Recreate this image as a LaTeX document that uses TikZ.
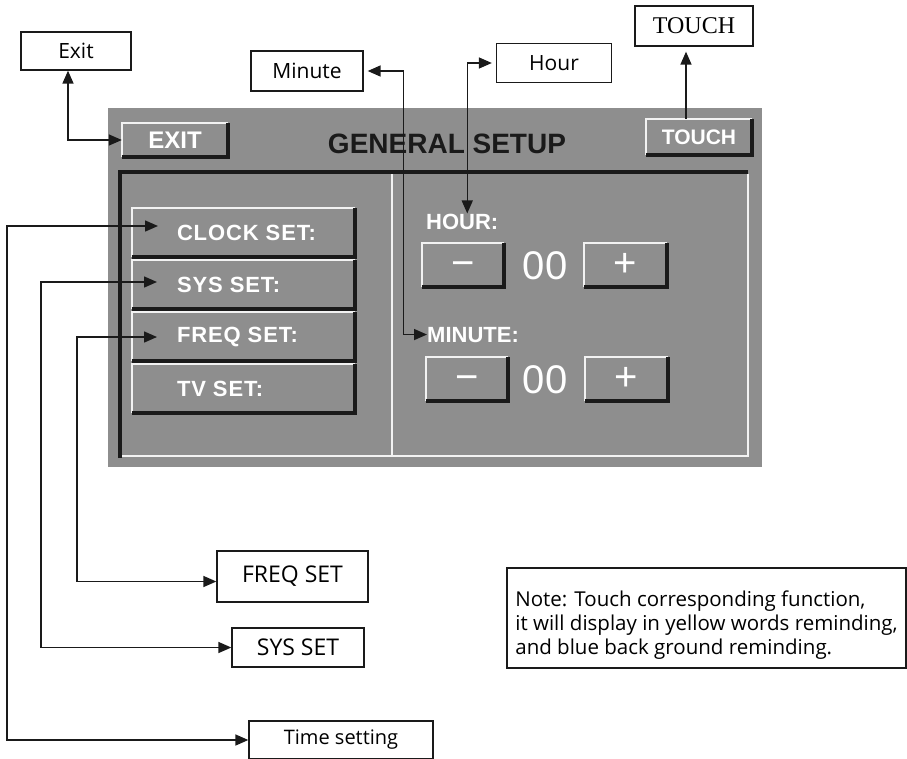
\documentclass[tikz,border=0pt]{standalone}
\usepackage{fontspec}
\setmainfont{Liberation Sans}
\newfontfamily\labelfont{Open Sans}
\newfontfamily\serifont{Liberation Serif}
\newfontfamily\menufont[LetterSpace=4]{Liberation Sans}
\usetikzlibrary{arrows.meta,positioning,calc}
\definecolor{panelgray}{HTML}{8E8E8E}
\definecolor{hilite}{HTML}{F2F2F2}
\definecolor{ink}{HTML}{1A1A1A}
\newcommand{\menutext}[1]{\makebox[133pt][l]{#1}}

\begin{document}
\begin{tikzpicture}[
  x=1pt, y=-1pt,
  callout/.style={draw=ink, line width=1.3pt, fill=white, inner sep=0pt, font=\labelfont\fontsize{21}{24}\selectfont},
  btn/.style={fill=panelgray, inner sep=0pt, text=white, font=\bfseries\fontsize{23}{26}\selectfont},
  menubtn/.style={btn, font=\menufont\bfseries\fontsize{22}{26}\selectfont, minimum width=223pt, minimum height=49pt},
  pmbtn/.style={btn, font=\fontsize{40}{40}\selectfont, minimum width=82pt, minimum height=44pt},
  hi/.style={hilite, line width=2pt},
  lo/.style={ink, line width=3.5pt},
  arr/.style={-{Triangle[length=13pt,width=11pt]}, line width=1.5pt, ink},
  dblarr/.style={{Triangle[length=13pt,width=11pt]}-{Triangle[length=13pt,width=11pt]}, line width=1.5pt, ink},
]
\useasboundingbox (0,0) rectangle (907,758);

% screen panel
\node[fill=panelgray, minimum width=654pt, minimum height=359pt, inner sep=0pt] (panel) at (435,287.5) {};
\draw[ink, line width=3.5pt] (120,458) -- (120,172) -- (748,172);
\draw[hilite, line width=2.5pt] (122,456) -- (748,456) -- (748,174);
\draw[hilite, line width=2.5pt] (392,174) -- (392,455);

\node[font=\bfseries\fontsize{28}{30}\selectfont, text=ink, anchor=base, inner sep=0pt] (title) at (447,153) {GENERAL SETUP};
\node[btn, font=\bfseries\fontsize{24}{26}\selectfont, minimum width=106pt, minimum height=34pt] (exitb) at (175,140) {EXIT};
\node[btn, font=\bfseries\fontsize{21}{24}\selectfont, minimum width=106pt, minimum height=36pt] (touchb) at (699,137) {TOUCH};

% menu buttons
\foreach \n/\t [count=\i from 0] in {clock/CLOCK SET:, sys/SYS SET:, freq/FREQ SET:, tv/TV SET:}
  \node[menubtn] (\n) at (243.5,{232.5+52*\i}) {\menutext{\t}};

% hour / minute
\node[anchor=base west, inner sep=0pt, text=white, font=\bfseries\fontsize{22}{24}\selectfont] (hourtxt) at (426,229) {HOUR:};
\node[pmbtn] (hminus) at (463,265) {\vphantom{+}−};
\node[text=white, font=\fontsize{40}{40}\selectfont, inner sep=0pt] (hval) at (545,266) {00};
\node[pmbtn, minimum width=83pt] (hplus) at (625.5,265) {+};

\node[anchor=base west, inner sep=0pt, text=white, font=\bfseries\fontsize{22}{24}\selectfont] (minutetxt) at (427,342) {MINUTE:};
\node[pmbtn] (mminus) at (467,379) {\vphantom{+}−};
\node[text=white, font=\fontsize{40}{40}\selectfont, inner sep=0pt] (mval) at (545,380) {00};
\node[pmbtn, minimum width=83pt] (mplus) at (626.5,379) {+};

\foreach \b in {exitb,touchb,clock,sys,freq,tv,hminus,hplus,mminus,mplus}{
  \draw[hi] (\b.south west) |- (\b.north east);
  \draw[lo] (\b.south west) -| (\b.north east);
}

% callouts
\node[callout, minimum width=110pt, minimum height=38pt] (exitlbl) at (76,51) {Exit};
\node[callout, minimum width=112pt, minimum height=40pt] (minlbl) at (307,71) {Minute};
\node[callout, minimum width=115pt, minimum height=39pt] (hourlbl) at (554,63) {Hour};
\node[callout, font=\serifont\fontsize{24}{26}\selectfont, minimum width=118pt, minimum height=40pt] (touchlbl) at (694,26) {TOUCH};
\node[callout, font=\labelfont\fontsize{23}{26}\selectfont, minimum width=151pt, minimum height=51pt] (freqlbl) at (292.5,576.5) {FREQ SET};
\node[callout, font=\labelfont\fontsize{23}{26}\selectfont, minimum width=132pt, minimum height=39pt] (syslbl) at (298,647.5) {SYS SET};
\node[callout, font=\labelfont\fontsize{20}{24}\selectfont, minimum width=184pt, minimum height=38pt] (timelbl) at (341,740) {Time setting};
\node[callout, font=\labelfont\fontsize{20.5}{24}\selectfont, align=left, minimum width=399pt, minimum height=100pt] (notelbl) at (706.5,618)
  {\rule{0pt}{30pt}Note: Touch corresponding function,\\it will display in yellow words reminding,\\and blue back ground reminding.};

% connectors
\coordinate (clockin) at (158,226);
\coordinate (sysin) at (157,282);
\coordinate (freqin) at (157,337);
\coordinate (trunk1) at (7,0);
\coordinate (trunk2) at (41,0);
\coordinate (trunk3) at (77,0);

\draw[dblarr] ([xshift=-8pt]exitlbl.south) |- (exitb.west);
\draw[dblarr, shorten <=4pt] (minlbl.east) -- ++(40,0) |- (minutetxt.west);
\draw[dblarr, shorten <=4pt] (hourlbl.west) -| ([xshift=5pt]hourtxt.north);
\draw[arr, shorten >=5pt] ([xshift=-13pt]touchb.north) -- ([xshift=-13pt]touchb.north |- touchlbl.south);

\draw[dblarr] (clockin) -- (clockin -| trunk1) |- (timelbl.west);
\draw[dblarr] (sysin) -- (sysin -| trunk2) |- (syslbl.west);
\draw[dblarr] (freqin) -- (freqin -| trunk3) |- ([yshift=-5pt]freqlbl.west);

\end{tikzpicture}
\end{document}
